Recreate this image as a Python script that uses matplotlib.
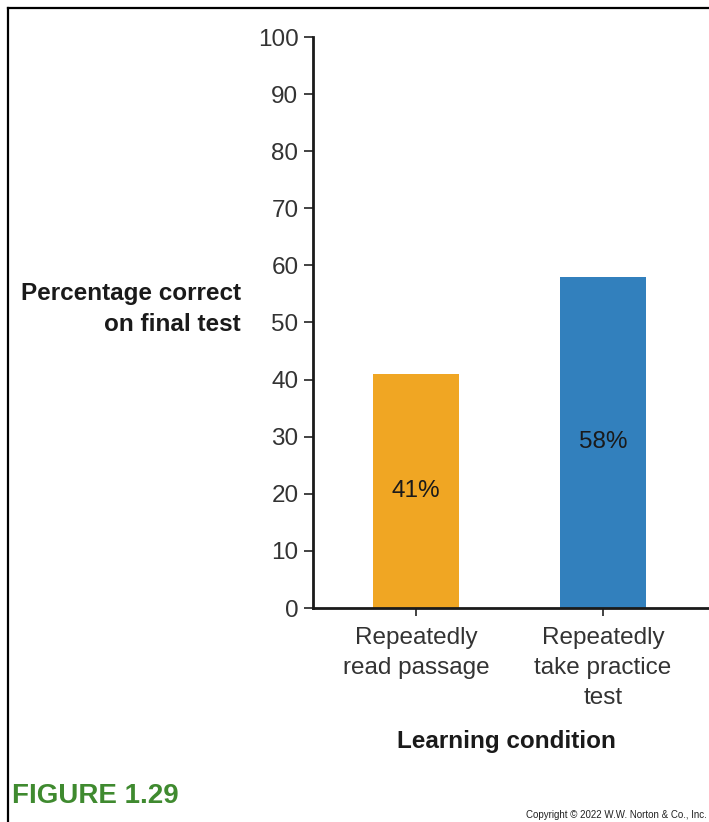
import matplotlib.pyplot as plt
from matplotlib.lines import Line2D

plt.rcParams['font.family'] = ['Liberation Sans', 'DejaVu Sans']

conditions = ['Repeatedly\nread passage', 'Repeatedly\ntake practice\ntest']
percent_correct = [41, 58]
bar_colors = ['#f0a623', '#3280bd']
y_ticks = [0, 10, 20, 30, 40, 50, 60, 70, 80, 90, 100]

W, H = 709, 822
fig = plt.figure(figsize=(W / 100, H / 100), dpi=100)
ax = fig.add_axes([313 / W, 1 - 608 / H, (W - 313) / W, (608 - 37) / H])

x = list(range(len(conditions)))
bars = ax.bar(x, percent_correct, width=0.465, color=bar_colors)
for b, v in zip(bars, percent_correct):
    ax.text(b.get_x() + b.get_width() / 2, v / 2, f'{v}%',
            ha='center', va='center', fontsize=17.5, color='#1a1a1a')

ax.set_xlim(-0.551, 1.567)
ax.set_ylim(0, 100)
ax.set_yticks(y_ticks)
ax.set_xticks(x)
ax.set_xticklabels(conditions, fontsize=17.5, color='#333333', linespacing=1.45)
ax.tick_params(axis='y', labelsize=17.5, labelcolor='#333333', length=6.5, width=1.2,
               color='#222222', pad=4)
ax.tick_params(axis='x', length=6, width=1.2, color='#222222', pad=8)

for s in ['top', 'right']:
    ax.spines[s].set_visible(False)
for s in ['left', 'bottom']:
    ax.spines[s].set_linewidth(2)
    ax.spines[s].set_color('#1a1a1a')

fig.text(241 / W, 1 - 309 / H, 'Percentage correct\non final test', ha='right', va='center',
         fontsize=17.5, fontweight='bold', color='#1a1a1a', linespacing=1.4)
fig.text(506 / W, 1 - 741 / H, 'Learning condition', ha='center', va='center',
         fontsize=17.5, fontweight='bold', color='#1a1a1a')

fig.text(12 / W, 1 - 796 / H, 'FIGURE 1.29', ha='left', va='center',
         fontsize=20, fontweight='bold', color='#3f8a2f')
fig.text(707 / W, 1 - 815 / H, 'Copyright © 2022 W.W. Norton & Co., Inc.', ha='right',
         va='center', fontsize=7, color='#222222')

# frame along top and left edges
fig.add_artist(Line2D([8 / W, 1], [1 - 8 / H, 1 - 8 / H], color='black', lw=1.6,
                      transform=fig.transFigure))
fig.add_artist(Line2D([8 / W, 8 / W], [0, 1 - 8 / H], color='black', lw=1.6,
                      transform=fig.transFigure))

fig.savefig('out.png', dpi=100)
